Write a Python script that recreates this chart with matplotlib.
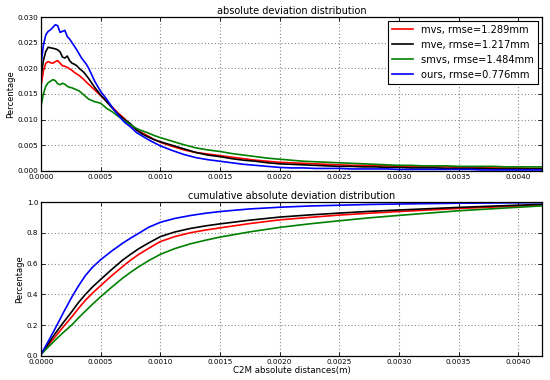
import matplotlib
matplotlib.use("Agg")
import matplotlib.pyplot as plt
import numpy as np

# x positions of the density samples (m)
dist_x = [0.0, 0.00002, 0.00004, 0.00006, 0.00008, 0.0001, 0.00012, 0.00014, 0.00016, 0.00018,
          0.0002, 0.00022, 0.00024, 0.00026, 0.00028, 0.0003, 0.00032, 0.00034, 0.00036, 0.00038,
          0.0004, 0.00045, 0.0005, 0.00055, 0.0006, 0.00065, 0.0007, 0.00075, 0.0008, 0.00085,
          0.0009, 0.00095, 0.001, 0.0011, 0.0012, 0.0013, 0.0014, 0.0015, 0.0016, 0.0017,
          0.0018, 0.0019, 0.002, 0.0021, 0.0022, 0.0023, 0.0024, 0.0025, 0.0026, 0.0027,
          0.0028, 0.0029, 0.003, 0.0031, 0.0032, 0.0033, 0.0034, 0.0035, 0.0036, 0.0037,
          0.0038, 0.0039, 0.004, 0.0041, 0.0042]

mvs_dist = [0.0165, 0.0195, 0.0210, 0.0213, 0.0211, 0.0210, 0.0213, 0.0215, 0.0210, 0.0205,
            0.0204, 0.0202, 0.0199, 0.0196, 0.0192, 0.0189, 0.0186, 0.0182, 0.0178, 0.0173,
            0.0169, 0.0158, 0.0147, 0.0136, 0.0124, 0.0112, 0.0102, 0.0090, 0.0080, 0.0074,
            0.0068, 0.0061, 0.0056, 0.0048, 0.0041, 0.0036, 0.0033, 0.0030, 0.0027, 0.0024,
            0.0021, 0.0019, 0.0017, 0.0016, 0.0015, 0.0014, 0.0013, 0.0012, 0.0011, 0.0011,
            0.0010, 0.0010, 0.0009, 0.0009, 0.0008, 0.0008, 0.0008, 0.0007, 0.0007, 0.0007,
            0.0006, 0.0006, 0.0006, 0.0005, 0.0005]
mve_dist = [0.0184, 0.0215, 0.0233, 0.0241, 0.0240, 0.0239, 0.0238, 0.0236, 0.0232, 0.0222,
            0.0220, 0.0224, 0.0215, 0.0210, 0.0208, 0.0205, 0.0200, 0.0196, 0.0192, 0.0186,
            0.0180, 0.0163, 0.0148, 0.0135, 0.0122, 0.0110, 0.0100, 0.0092, 0.0080, 0.0072,
            0.0066, 0.0061, 0.0057, 0.0050, 0.0043, 0.0036, 0.0031, 0.0028, 0.0024, 0.0021,
            0.0019, 0.0016, 0.0014, 0.0013, 0.0012, 0.0011, 0.0010, 0.0009, 0.0009, 0.0008,
            0.0008, 0.0007, 0.0007, 0.0006, 0.0006, 0.0006, 0.0005, 0.0005, 0.0005, 0.0005,
            0.0004, 0.0004, 0.0004, 0.0004, 0.0004]
smvs_dist = [0.0126, 0.0150, 0.0165, 0.0172, 0.0175, 0.0178, 0.0176, 0.0170, 0.0168, 0.0171,
             0.0169, 0.0165, 0.0163, 0.0162, 0.0160, 0.0158, 0.0156, 0.0152, 0.0148, 0.0144,
             0.0140, 0.0135, 0.0132, 0.0122, 0.0115, 0.0106, 0.0098, 0.0090, 0.0083, 0.0078,
             0.0074, 0.0069, 0.0065, 0.0058, 0.0051, 0.0045, 0.0041, 0.0038, 0.0034, 0.0031,
             0.0028, 0.0025, 0.0023, 0.0021, 0.0019, 0.0018, 0.0017, 0.0016, 0.0015, 0.0014,
             0.0013, 0.0012, 0.0011, 0.0011, 0.0010, 0.0010, 0.0010, 0.0009, 0.0009, 0.0009,
             0.0009, 0.0008, 0.0008, 0.0008, 0.0008]
ours_dist = [0.0207, 0.0245, 0.0265, 0.0272, 0.0275, 0.0280, 0.0285, 0.0283, 0.0270, 0.0272,
             0.0274, 0.0262, 0.0257, 0.0250, 0.0243, 0.0236, 0.0228, 0.0220, 0.0214, 0.0208,
             0.0200, 0.0175, 0.0155, 0.0140, 0.0123, 0.0108, 0.0095, 0.0086, 0.0075, 0.0068,
             0.0061, 0.0055, 0.0049, 0.0040, 0.0032, 0.0026, 0.0022, 0.0019, 0.0016, 0.0013,
             0.0011, 0.0009, 0.0007, 0.0006, 0.0006, 0.0005, 0.0005, 0.0005, 0.0004, 0.0004,
             0.0004, 0.0004, 0.0003, 0.0003, 0.0003, 0.0003, 0.0003, 0.0003, 0.0003, 0.0002,
             0.0002, 0.0002, 0.0002, 0.0002, 0.0002]

# cumulative curves
cum_x = [0.0, 0.00005, 0.00012, 0.00019, 0.00026, 0.00031, 0.00037, 0.00043, 0.0005, 0.00059,
         0.00068, 0.00075, 0.00082, 0.0009, 0.001, 0.00112, 0.00125, 0.00138, 0.0015, 0.00175,
         0.002, 0.00225, 0.0025, 0.00275, 0.003, 0.0035, 0.0042]
mvs_cum = [0.01, 0.06, 0.126, 0.192, 0.256, 0.305, 0.36, 0.407, 0.457, 0.52,
           0.578, 0.622, 0.66, 0.698, 0.743, 0.775, 0.8, 0.818, 0.832, 0.86,
           0.884, 0.9, 0.915, 0.927, 0.938, 0.958, 0.98]
mve_cum = [0.01, 0.068, 0.147, 0.22, 0.29, 0.343, 0.398, 0.447, 0.497, 0.56,
           0.62, 0.66, 0.697, 0.733, 0.775, 0.805, 0.828, 0.845, 0.858, 0.882,
           0.902, 0.916, 0.928, 0.939, 0.948, 0.965, 0.985]
smvs_cum = [0.01, 0.05, 0.104, 0.155, 0.203, 0.244, 0.29, 0.335, 0.385, 0.445,
            0.503, 0.543, 0.58, 0.618, 0.66, 0.697, 0.728, 0.752, 0.772, 0.806,
            0.835, 0.858, 0.878, 0.897, 0.913, 0.943, 0.975]
ours_cum = [0.01, 0.08, 0.18, 0.285, 0.385, 0.45, 0.52, 0.575, 0.625, 0.68,
            0.73, 0.765, 0.797, 0.835, 0.868, 0.893, 0.912, 0.927, 0.938, 0.955,
            0.966, 0.974, 0.979, 0.984, 0.987, 0.992, 0.996]

labels = ["mvs, rmse=1.289mm", "mve, rmse=1.217mm", "smvs, rmse=1.484mm", "ours, rmse=0.776mm"]
colors = ["#ff0000", "#000000", "#008000", "#0000ff"]

plt.rcParams['font.family'] = ['DejaVu Sans']

fig = plt.figure(figsize=(5.5, 3.8), dpi=100)
ax1 = fig.add_axes([41/550, 1-171/380, 501/550, 154/380])
ax2 = fig.add_axes([41/550, 1-356/380, 501/550, 154/380])

for ys, c, lab in zip([mvs_dist, mve_dist, smvs_dist, ours_dist], colors, labels):
    ax1.plot(dist_x, ys, color=c, lw=1.2, label=lab)
for ys, c in zip([mvs_cum, mve_cum, smvs_cum, ours_cum], colors):
    ax2.plot(cum_x, ys, color=c, lw=1.2)

ax1.set_ylim(0, 0.030)
ax1.set_yticks([0.0, 0.005, 0.010, 0.015, 0.020, 0.025, 0.030])
ax1.set_yticklabels(["0.000", "0.005", "0.010", "0.015", "0.020", "0.025", "0.030"])
ax2.set_ylim(0, 1.0)
ax2.set_yticks([0.0, 0.2, 0.4, 0.6, 0.8, 1.0])
ax2.set_yticklabels(["0.0", "0.2", "0.4", "0.6", "0.8", "1.0"])

xt = [0.0, 0.0005, 0.001, 0.0015, 0.002, 0.0025, 0.003, 0.0035, 0.004]
for ax in (ax1, ax2):
    ax.set_xlim(0, 0.0042)
    ax.set_xticks(xt)
    ax.set_xticklabels(["%.4f" % v for v in xt])
    ax.tick_params(direction='in', top=True, right=True, labelsize=5.2, length=3, width=0.6, pad=2)
    ax.grid(True, color='#888888', linestyle=(0, (1, 2)), lw=0.8)
    for s in ax.spines.values():
        s.set_linewidth(0.9)
    ax.set_ylabel("Percentage", fontsize=6, labelpad=2)

ax1.set_title("absolute deviation distribution", fontsize=7, pad=2)
ax2.set_title("cumulative absolute deviation distribution", fontsize=7, pad=2)
ax2.set_xlabel("C2M absolute distances(m)", fontsize=6.2, labelpad=1)

leg = ax1.legend(loc='upper right', fontsize=7.1, fancybox=False, framealpha=1,
                 edgecolor='black', handlelength=2.2, borderaxespad=0.4)
leg.get_frame().set_linewidth(0.8)

fig.savefig("out.png", dpi=100)
